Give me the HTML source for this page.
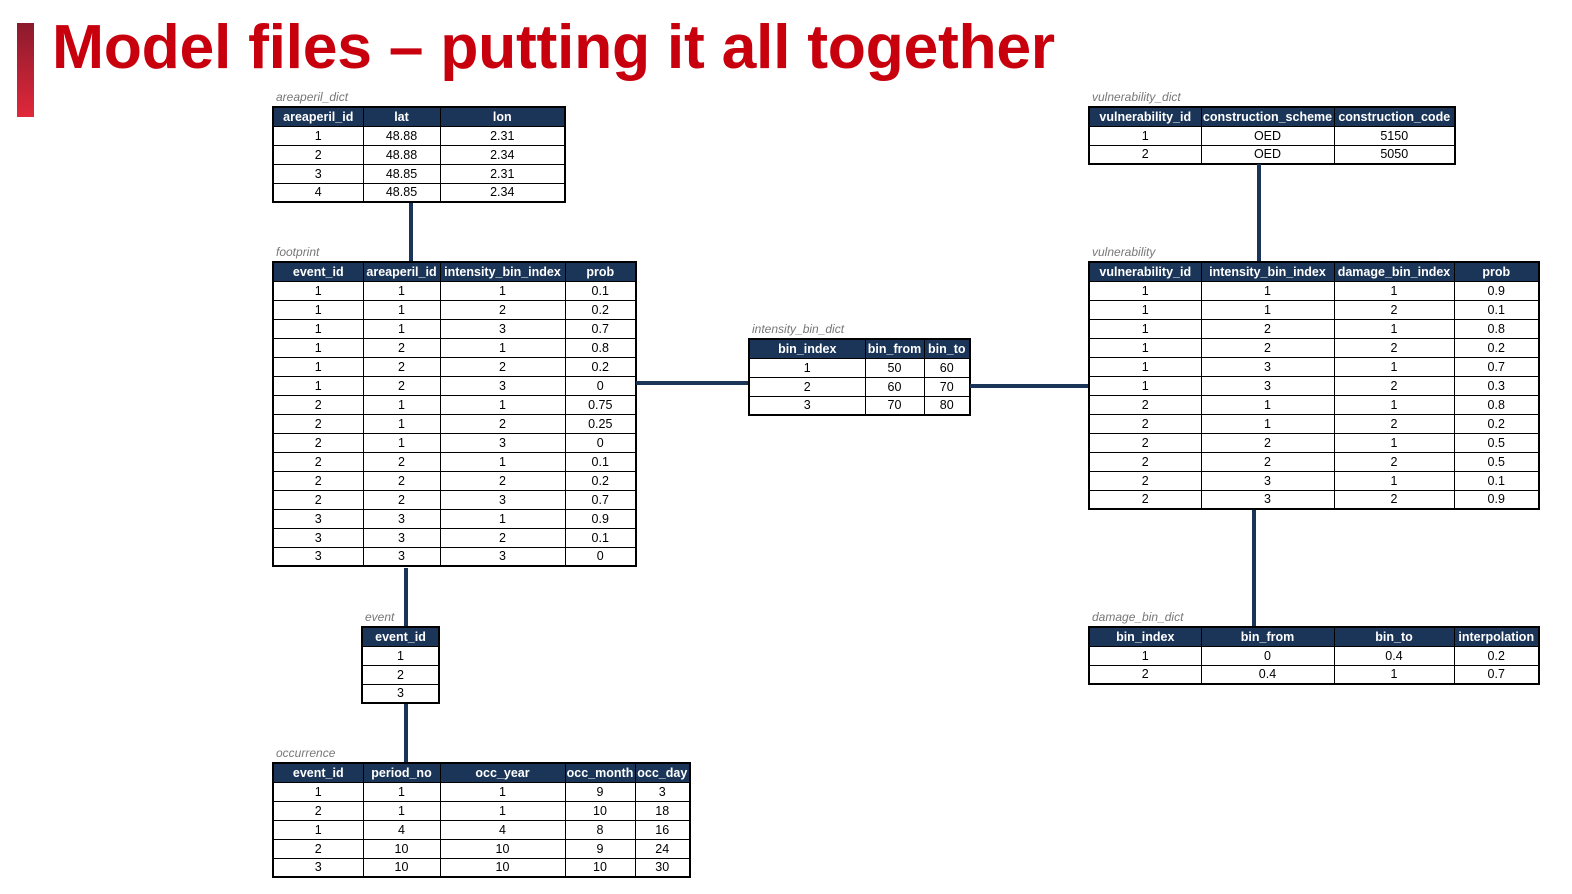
<!DOCTYPE html>
<html><head><meta charset="utf-8"><style>
body{margin:0;width:1572px;height:894px;background:#fff;position:relative;overflow:hidden;font-family:"Liberation Sans",sans-serif}
.bar{position:absolute;left:17px;top:23px;width:17px;height:94px;background:linear-gradient(#8b1a2c,#e0283a)}
h1{position:absolute;left:52px;top:11px;margin:0;font-size:62.5px;font-weight:bold;color:#c8000e;letter-spacing:-0.3px;white-space:nowrap}
table{position:absolute;border-collapse:collapse;table-layout:fixed;border:2px solid #000}
td,th{border:1px solid #000;padding:0;text-align:center;font-size:12.5px;line-height:16px;overflow:hidden;white-space:nowrap;color:#000}
th{background:#1a3558;color:#fff;font-weight:bold;border-color:#000}
.lb{position:absolute;font-size:12px;font-style:italic;color:#777}
.c{position:absolute;background:#1a3558}
</style></head><body>
<div class="bar"></div>
<h1>Model files – putting it all together</h1>

<div class="lb" style="left:276px;top:90px">areaperil_dict</div>
<table style="left:272px;top:106px;width:294px">
<colgroup><col style="width:90px"><col style="width:77px"><col></colgroup>
<tr style="height:19px"><th>areaperil_id</th><th>lat</th><th>lon</th></tr>
<tr style="height:19px"><td>1</td><td>48.88</td><td>2.31</td></tr>
<tr style="height:19px"><td>2</td><td>48.88</td><td>2.34</td></tr>
<tr style="height:19px"><td>3</td><td>48.85</td><td>2.31</td></tr>
<tr style="height:19px"><td>4</td><td>48.85</td><td>2.34</td></tr>
</table>

<div class="lb" style="left:276px;top:245px">footprint</div>
<table style="left:272px;top:261px;width:365px">
<colgroup><col style="width:90px"><col style="width:77px"><col style="width:125px"><col></colgroup>
<tr style="height:19px"><th>event_id</th><th>areaperil_id</th><th>intensity_bin_index</th><th>prob</th></tr>
<tr style="height:19px"><td>1</td><td>1</td><td>1</td><td>0.1</td></tr>
<tr style="height:19px"><td>1</td><td>1</td><td>2</td><td>0.2</td></tr>
<tr style="height:19px"><td>1</td><td>1</td><td>3</td><td>0.7</td></tr>
<tr style="height:19px"><td>1</td><td>2</td><td>1</td><td>0.8</td></tr>
<tr style="height:19px"><td>1</td><td>2</td><td>2</td><td>0.2</td></tr>
<tr style="height:19px"><td>1</td><td>2</td><td>3</td><td>0</td></tr>
<tr style="height:19px"><td>2</td><td>1</td><td>1</td><td>0.75</td></tr>
<tr style="height:19px"><td>2</td><td>1</td><td>2</td><td>0.25</td></tr>
<tr style="height:19px"><td>2</td><td>1</td><td>3</td><td>0</td></tr>
<tr style="height:19px"><td>2</td><td>2</td><td>1</td><td>0.1</td></tr>
<tr style="height:19px"><td>2</td><td>2</td><td>2</td><td>0.2</td></tr>
<tr style="height:19px"><td>2</td><td>2</td><td>3</td><td>0.7</td></tr>
<tr style="height:19px"><td>3</td><td>3</td><td>1</td><td>0.9</td></tr>
<tr style="height:19px"><td>3</td><td>3</td><td>2</td><td>0.1</td></tr>
<tr style="height:19px"><td>3</td><td>3</td><td>3</td><td>0</td></tr>
</table>

<div class="lb" style="left:365px;top:610px">event</div>
<table style="left:361px;top:626px;width:79px">
<tr style="height:19px"><th>event_id</th></tr>
<tr style="height:19px"><td>1</td></tr>
<tr style="height:19px"><td>2</td></tr>
<tr style="height:19px"><td>3</td></tr>
</table>

<div class="lb" style="left:276px;top:746px">occurrence</div>
<table style="left:272px;top:762px;width:419px">
<colgroup><col style="width:90px"><col style="width:77px"><col style="width:125px"><col style="width:70px"><col></colgroup>
<tr style="height:19px"><th>event_id</th><th>period_no</th><th>occ_year</th><th>occ_month</th><th>occ_day</th></tr>
<tr style="height:19px"><td>1</td><td>1</td><td>1</td><td>9</td><td>3</td></tr>
<tr style="height:19px"><td>2</td><td>1</td><td>1</td><td>10</td><td>18</td></tr>
<tr style="height:19px"><td>1</td><td>4</td><td>4</td><td>8</td><td>16</td></tr>
<tr style="height:19px"><td>2</td><td>10</td><td>10</td><td>9</td><td>24</td></tr>
<tr style="height:19px"><td>3</td><td>10</td><td>10</td><td>10</td><td>30</td></tr>
</table>

<div class="lb" style="left:752px;top:322px">intensity_bin_dict</div>
<table style="left:748px;top:338px;width:223px">
<colgroup><col style="width:116px"><col style="width:59px"><col></colgroup>
<tr style="height:19px"><th>bin_index</th><th>bin_from</th><th>bin_to</th></tr>
<tr style="height:19px"><td>1</td><td>50</td><td>60</td></tr>
<tr style="height:19px"><td>2</td><td>60</td><td>70</td></tr>
<tr style="height:19px"><td>3</td><td>70</td><td>80</td></tr>
</table>

<div class="lb" style="left:1092px;top:90px">vulnerability_dict</div>
<table style="left:1088px;top:106px;width:368px">
<colgroup><col style="width:112px"><col style="width:133px"><col></colgroup>
<tr style="height:19px"><th>vulnerability_id</th><th>construction_scheme</th><th>construction_code</th></tr>
<tr style="height:19px"><td>1</td><td>OED</td><td>5150</td></tr>
<tr style="height:19px"><td>2</td><td>OED</td><td>5050</td></tr>
</table>

<div class="lb" style="left:1092px;top:245px">vulnerability</div>
<table style="left:1088px;top:261px;width:452px">
<colgroup><col style="width:112px"><col style="width:133px"><col style="width:120px"><col></colgroup>
<tr style="height:19px"><th>vulnerability_id</th><th>intensity_bin_index</th><th>damage_bin_index</th><th>prob</th></tr>
<tr style="height:19px"><td>1</td><td>1</td><td>1</td><td>0.9</td></tr>
<tr style="height:19px"><td>1</td><td>1</td><td>2</td><td>0.1</td></tr>
<tr style="height:19px"><td>1</td><td>2</td><td>1</td><td>0.8</td></tr>
<tr style="height:19px"><td>1</td><td>2</td><td>2</td><td>0.2</td></tr>
<tr style="height:19px"><td>1</td><td>3</td><td>1</td><td>0.7</td></tr>
<tr style="height:19px"><td>1</td><td>3</td><td>2</td><td>0.3</td></tr>
<tr style="height:19px"><td>2</td><td>1</td><td>1</td><td>0.8</td></tr>
<tr style="height:19px"><td>2</td><td>1</td><td>2</td><td>0.2</td></tr>
<tr style="height:19px"><td>2</td><td>2</td><td>1</td><td>0.5</td></tr>
<tr style="height:19px"><td>2</td><td>2</td><td>2</td><td>0.5</td></tr>
<tr style="height:19px"><td>2</td><td>3</td><td>1</td><td>0.1</td></tr>
<tr style="height:19px"><td>2</td><td>3</td><td>2</td><td>0.9</td></tr>
</table>

<div class="lb" style="left:1092px;top:610px">damage_bin_dict</div>
<table style="left:1088px;top:626px;width:452px">
<colgroup><col style="width:112px"><col style="width:133px"><col style="width:120px"><col></colgroup>
<tr style="height:19px"><th>bin_index</th><th>bin_from</th><th>bin_to</th><th>interpolation</th></tr>
<tr style="height:19px"><td>1</td><td>0</td><td>0.4</td><td>0.2</td></tr>
<tr style="height:19px"><td>2</td><td>0.4</td><td>1</td><td>0.7</td></tr>
</table>

<div class="c" style="left:409px;top:203px;width:4px;height:58px"></div>
<div class="c" style="left:404px;top:568px;width:4px;height:58px"></div>
<div class="c" style="left:404px;top:704px;width:4px;height:58px"></div>
<div class="c" style="left:636px;top:381px;width:112px;height:4px"></div>
<div class="c" style="left:970px;top:384px;width:118px;height:4px"></div>
<div class="c" style="left:1257px;top:164px;width:4px;height:97px"></div>
<div class="c" style="left:1252px;top:510px;width:4px;height:116px"></div>
</body></html>
